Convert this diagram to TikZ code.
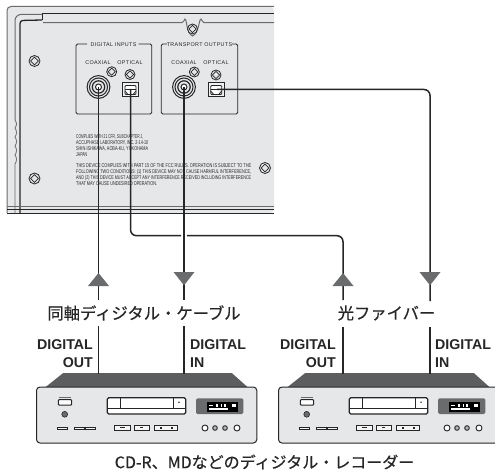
\documentclass[tikz,border=0pt]{standalone}
\usepackage{fontspec}
\usepackage{graphicx}
\setmainfont{Liberation Sans}
\newfontfamily\jpf[FakeBold=0.35]{Noto Sans CJK JP}
\newfontfamily\panelf[LetterSpace=6]{Liberation Sans}
\definecolor{panel}{HTML}{E6E7E9}
\definecolor{ink}{HTML}{262626}
\definecolor{midg}{HTML}{6A6B6D}
\definecolor{topg}{HTML}{5C5D5F}
\tikzset{
  cable/.style={draw=ink,line width=1.5pt},
  arrowfill/.style={fill=midg},
  plabel/.style={inner sep=0pt,text=ink,font=\panelf\fontsize{5.4}{6}\selectfont},
  jlabel/.style={inner sep=0pt,text=ink,font=\jpf\fontsize{16.3}{18}\selectfont},
  dlabel/.style={inner sep=0pt,text=ink,font=\bfseries\fontsize{14.2}{16}\selectfont},
  fine/.style={inner sep=0pt,anchor=west,text=ink},
  screwo/.style={draw=ink,line width=.8pt,fill=panel},
  devbtn/.style={draw=ink,line width=.8pt,fill=panel!40!white},
}
\newcommand{\screwat}[3]{%
  \draw[screwo] (#1,#2) circle (#3);
  \draw[draw=ink,line width=.7pt,rotate around={45:(#1,#2)}] (#1-#3*.5,#2-#3*.5) rectangle (#1+#3*.5,#2+#3*.5);
}
\newcommand{\coax}[2]{%
  \draw[ink,line width=1pt] (#1,#2) circle (11.4);
  \draw[ink,line width=1pt] (#1,#2) circle (9);
  \draw[ink,line width=1.2pt] (#1,#2) circle (6.2);
  \draw[ink,line width=1pt,fill=white] (#1,#2) circle (3);
}
\newcommand{\optport}[2]{%
  \draw[ink,line width=1pt,fill=panel!60!white] (#1-8.2,#2-7) rectangle (#1+8.2,#2+7);
  \draw[ink,line width=.8pt,rounded corners=1pt,fill=white] (#1-5.5,#2-4.5) rectangle (#1+5.5,#2+4.5);
  \draw[ink,line width=.8pt] (#1-5.5,#2-.5) -- (#1+5.5,#2-.5) (#1-5.5,#2+1) -- (#1-2.5,#2+4.5) (#1+5.5,#2+1) -- (#1+2.5,#2+4.5);
}
\newcommand{\fitline}[5]{% name x y width text
  \node[fine] (#1) at (#2,#3) {\resizebox{#4pt}{3.9pt}{\fontsize{6}{6}\selectfont #5}};
}
\newcommand{\recorder}[2]{% offset, name
\begin{scope}[shift={(#1,0)}]
  \fill[topg] (45,387.5) -- (63,373.2) -- (232,373.2) -- (248,387.5) -- cycle;
  \draw[fill=panel,draw=ink,line width=1pt,rounded corners=3.5pt] (36.5,387) rectangle (256.8,443);
  \draw[midg,line width=.6pt] (59,397) -- (71,397);
  \draw[ink,fill=white,line width=1pt,rounded corners=1pt] (58.3,399.5) rectangle (71.7,405.2);
  \draw[ink,fill=midg,line width=.6pt] (64.7,414.3) circle (2.9);
  \draw[devbtn] (57.7,427) rectangle (67.5,429.7);
  \draw[devbtn] (74,427) rectangle (84,429.7);
  \draw[devbtn] (85.5,427) rectangle (95.5,429.7);
  \draw[ink,fill=white,line width=1.2pt,rounded corners=1.5pt] (107.3,397.7) rectangle (185.7,414);
  \draw[ink,line width=.7pt] (107.3,408.3) -- (185.7,408.3) (120.7,397.7) -- (120.7,408.3) (173.3,397.7) -- (173.3,408.3);
  \fill[ink] (179,402.2) circle (.8);
  \draw[devbtn] (114.5,425.3) rectangle (130,430);
  \draw[devbtn] (134.5,425.3) rectangle (149.5,430);
  \draw[devbtn] (154.5,425.3) rectangle (177,430);
  \fill[ink] (120,427) rectangle (125,428.2);
  \fill[ink] (140,427) rectangle (143,428.4);
  \fill[ink] (159.5,426.8) rectangle (161.5,428.6);
  \fill[ink] (170.5,426.8) rectangle (172.5,428.6);
  \fill[midg,rounded corners=1.5pt] (196,398.3) rectangle (243.3,414);
  \fill[black] (207,402) rectangle (238,411.8);
  \fill[white] (209,408.3) rectangle (228,410.2);
  \fill[white] (209,404.5) rectangle (213,405.2);
  \fill[white] (216,403.7) rectangle (218,406.5);
  \fill[white] (220.5,403.7) rectangle (221.5,406.5);
  \fill[white] (224,403.7) rectangle (226,406.5);
  \fill[white] (232,403.7) rectangle (236,406.5);
  \draw[ink,line width=.9pt,fill=white] (205,428) circle (3);
  \draw[ink,line width=.9pt,fill=midg!50!white] (215,428) circle (2.3);
  \draw[ink,line width=.9pt,fill=midg!50!white] (225,428) circle (2.3);
  \draw[ink,line width=.9pt,fill=white] (237,428) circle (3);
\end{scope}
}
\begin{document}
\begin{tikzpicture}[x=1pt,y=-1pt]
\useasboundingbox (0,0) rectangle (495,473);
\fill[white] (0,0) rectangle (495,473);
% rear panel
\fill[panel,rounded corners=4pt] (7,213) -- (7,6.5) -- (274,6.5) -- (274,213) -- cycle;
\draw[midg,line width=1pt,rounded corners=4pt] (7,213) -- (7,6.5) -- (274,6.5);
\draw[midg,line width=1pt,rounded corners=6pt] (15,120) -- (15,14.5) -- (42,14.5);
\draw[midg,line width=.8pt] (15,120) .. controls (17,123) and (17,125) .. (15,128) .. controls (17,131) and (17,134) .. (15,137) .. controls (17,140) and (17,143) .. (15,146) .. controls (17,149) and (17,152) .. (15,155) .. controls (17,158) and (17,161) .. (15,164) -- (15,213);
\draw[ink,line width=1.3pt,rounded corners=3pt] (20,213) -- (20,20.5) -- (42,20);
\draw[ink,line width=.9pt] (42,14) -- (42,20.5);
\draw[ink,line width=1pt] (42,13.5) -- (274,13.5);
\draw[midg,line width=1pt] (43,22.7) -- (182,22.7) .. controls (184,22.7) and (184,19) .. (185,19) .. controls (187,19) and (186,33) .. (192.5,36) .. controls (199,33) and (199,19) .. (201,19) .. controls (202,19) and (202,22.7) .. (204,22.7) -- (274,22.7);
\screwat{192.5}{29}{5}
\draw[midg,line width=1pt] (7,206.8) -- (274,206.8);
\draw[ink,line width=.8pt] (7,209.3) -- (274,209.3);
\draw[ink,line width=1pt] (7,213.2) -- (274,213.2);
% screws
\screwat{34.5}{61}{5.5}
\screwat{34.5}{178.5}{5.5}
\screwat{265}{168}{5.5}
\screwat{111.7}{71.7}{5}
\screwat{130}{74.5}{5}
\screwat{194.3}{72}{5}
\screwat{216}{75}{5}
% terminal groups
\node[plabel] (diginlab) at (113.5,44.3) {DIGITAL INPUTS};
\node[plabel] (trlab) at (199.5,44.3) {TRANSPORT OUTPUTS};
\draw[ink,line width=.8pt,rounded corners=1.5pt] (87,44) -- (76,44) -- (76,114) -- (151.7,114) -- (151.7,44) -- (138.5,44);
\draw[ink,line width=.8pt,rounded corners=1.5pt] (167,44) -- (161.3,44) -- (161.3,114) -- (237.7,114) -- (237.7,44) -- (232,44);
\node[plabel] (c1) at (98,62.8) {COAXIAL};
\node[plabel] (o1) at (130,62.8) {OPTICAL};
\node[plabel] (c2) at (184,62.8) {COAXIAL};
\node[plabel] (o2) at (216,62.8) {OPTICAL};
\coax{98.5}{87}
\coax{184}{87}
\optport{130.5}{90}
\optport{216.2}{90}
% fine print
\fitline{f1}{76}{137.3}{67}{COMPLIES WITH 21 CFR, SUBCHAPTER J,}
\fitline{f2}{76}{143}{72}{ACCUPHASE LABORATORY, INC. 2-14-10}
\fitline{f3}{76}{149.3}{72}{SHIN-ISHIKAWA, AOBA-KU, YOKOHAMA}
\fitline{f4}{76}{155}{11}{JAPAN}
\fitline{f5}{76}{165.7}{175}{THIS DEVICE COMPLIES WITH PART 15 OF THE FCC RULES. OPERATION IS SUBJECT TO THE}
\fitline{f6}{76}{171.7}{175}{FOLLOWING TWO CONDITIONS: (1) THIS DEVICE MAY NOT CAUSE HARMFUL INTERFERENCE,}
\fitline{f7}{76}{178.3}{175}{AND (2) THIS DEVICE MUST ACCEPT ANY INTERFERENCE RECEIVED INCLUDING INTERFERENCE}
\fitline{f8}{76}{184}{81}{THAT MAY CAUSE UNDESIRED OPERATION.}
% recorders
\recorder{0}{a}
\recorder{242}{b}
% labels
\node[jlabel] (coaxlab) at (144,313) {同軸ディジタル・ケーブル};
\node[jlabel] (optlab) at (386.5,313) {光ファイバー};
\node[jlabel,font=\jpf\fontsize{16}{18}\selectfont] (reclab) at (264.5,462) {CD-R、MDなどのディジタル・レコーダー};
\node[dlabel,anchor=east] (d1) at (93,345) {DIGITAL};
\node[dlabel,anchor=east] (d1b) at (93,362.5) {OUT};
\node[dlabel,anchor=west] (d2) at (190,345) {DIGITAL};
\node[dlabel,anchor=west] (d2b) at (190,363) {IN};
\node[dlabel,anchor=east] (d3) at (336,345) {DIGITAL};
\node[dlabel,anchor=east] (d3b) at (336,362.5) {OUT};
\node[dlabel,anchor=west] (d4) at (435,345) {DIGITAL};
\node[dlabel,anchor=west] (d4b) at (435,363) {IN};
% connector end points
\coordinate (pa) at (98.5,87);
\coordinate (pb) at (184,87);
\coordinate (pc) at (130.5,89);
\coordinate (pd) at (217,89.5);
\coordinate (a1) at (98.5,300);
\coordinate (a2) at (98.5,326);
\coordinate (a3) at (98.5,373.5);
\coordinate (b1) at (184,300);
\coordinate (b2) at (184,326);
\coordinate (b3) at (184,373.5);
\coordinate (cc) at (130.5,235.7);
\coordinate (cg1) at (181,235.7);
\coordinate (cg2) at (187,235.7);
\coordinate (cd) at (343,235.7);
\coordinate (c1e) at (343,300);
\coordinate (c2e) at (343,327);
\coordinate (c3e) at (343,373.5);
\coordinate (dc) at (430,89.5);
\coordinate (d1e) at (430,301);
\coordinate (d2e) at (430,327);
\coordinate (d3e) at (430,373.5);
% connectors
\draw[cable] (pa) -- (a1);
\draw[cable] (a2) -- (a3);
\draw[cable] (pb) -- (b1);
\draw[cable] (b2) -- (b3);
\draw[cable,rounded corners=6pt] (pc) -- (cc) -- (cg1);
\draw[cable,rounded corners=6pt] (cg2) -- (cd) -- (c1e);
\draw[cable] (c2e) -- (c3e);
\draw[cable,rounded corners=6pt] (pd) -- (dc) -- (d1e);
\draw[cable] (d2e) -- (d3e);
% arrowheads
\fill[arrowfill] (98.5,273) -- (109,286) -- (88,286) -- cycle;
\fill[arrowfill] (184,285.3) -- (194.5,272) -- (173.5,272) -- cycle;
\fill[arrowfill] (343,273) -- (353.5,286) -- (332.5,286) -- cycle;
\fill[arrowfill] (430,285.3) -- (440.5,272) -- (419.5,272) -- cycle;
\end{tikzpicture}
\end{document}
